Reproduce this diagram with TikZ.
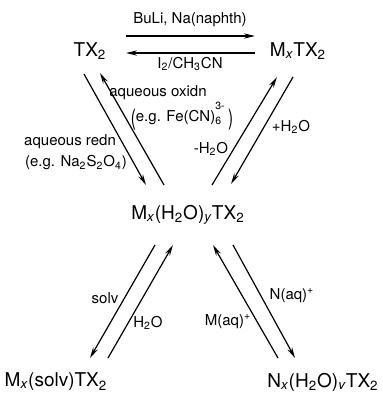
\documentclass[tikz,border=0pt]{standalone}
\usepackage{fontspec}
\setmainfont{TeX Gyre Heros}
\usepackage{graphicx}
\usetikzlibrary{arrows.meta}
\newcommand\tallparen[1]{\raisebox{-0.22em}{\scalebox{1}[1.5]{#1}}}
\tikzset{
  species/.style={inner sep=1pt, font=\fontsize{9.5}{11}\selectfont},
  cond/.style={inner sep=1pt, font=\fontsize{7.5}{9}\selectfont},
  rxn/.style={-{Stealth[length=5.5pt,width=2.6pt]}, line width=0.6pt},
}
\begin{document}
\begin{tikzpicture}[x=0.5pt, y=-0.5pt]
\useasboundingbox (0,0) rectangle (383,397);
% species
\node[species] (tx) at (90,51) {TX\textsubscript{2}};
\node[species] (mtx) at (298,51) {M\textsubscript{\itshape x}TX\textsubscript{2}};
\node[species] (hyd) at (188,215) {M\textsubscript{\itshape x}(H\textsubscript{2}O)\textsubscript{\itshape y}TX\textsubscript{2}};
\node[species] (solv) at (56,382) {M\textsubscript{\itshape x}(solv)TX\textsubscript{2}};
\node[species] (exch) at (323,382) {N\textsubscript{\itshape x}(H\textsubscript{2}O)\textsubscript{\itshape v}TX\textsubscript{2}};
% arrow ends
\coordinate (tx-r1) at (126,36);
\coordinate (tx-r2) at (126,53);
\coordinate (mtx-l1) at (255,36);
\coordinate (mtx-l2) at (255,53);
\coordinate (tx-d1) at (84,74);
\coordinate (tx-d2) at (100,73);
\coordinate (hyd-ul1) at (146,185);
\coordinate (hyd-ul2) at (164,185);
\coordinate (mtx-d1) at (277,77);
\coordinate (mtx-d2) at (293,77);
\coordinate (hyd-ur1) at (212,185);
\coordinate (hyd-ur2) at (231,184);
\coordinate (hyd-dl1) at (155,245);
\coordinate (hyd-dl2) at (173,245);
\coordinate (solv-u1) at (90,358);
\coordinate (solv-u2) at (108,358);
\coordinate (hyd-dr1) at (213,245);
\coordinate (hyd-dr2) at (233,245);
\coordinate (exch-u1) at (278,358);
\coordinate (exch-u2) at (295,358);
% reactions
\draw[rxn] (tx-r1) -- (mtx-l1);
\draw[rxn] (mtx-l2) -- (tx-r2);
\draw[rxn] (tx-d1) -- (hyd-ul1);
\draw[rxn] (hyd-ul2) -- (tx-d2);
\draw[rxn] (hyd-ur1) -- (mtx-d1);
\draw[rxn] (mtx-d2) -- (hyd-ur2);
\draw[rxn] (hyd-dl1) -- (solv-u1);
\draw[rxn] (solv-u2) -- (hyd-dl2);
\draw[rxn] (exch-u1) -- (hyd-dr1);
\draw[rxn] (hyd-dr2) -- (exch-u2);
% conditions
\node[cond] (buli) at (190,20) {BuLi, Na(naphth)};
\node[cond] (iodine) at (190,64) {I\textsubscript{2}/CH\textsubscript{3}CN};
\node[cond] (oxidn) at (158,93) {aqueous oxidn};
\node[cond] (ferri) at (182,116) {\tallparen{(}e.g. Fe(CN)\rlap{\textsubscript{6}}\raisebox{0.8ex}{\textsuperscript{3-}}\,\tallparen{)}};
\node[cond] (addw) at (291,127) {+H\textsubscript{2}O};
\node[cond] (redn) at (70,142) {aqueous redn};
\node[cond] (dithi) at (76,163) {(e.g. Na\textsubscript{2}S\textsubscript{2}O\textsubscript{4})};
\node[cond] (remw) at (211,149) {-H\textsubscript{2}O};
\node[cond] (solvl) at (105,298) {solv};
\node[cond] (water) at (148,323) {H\textsubscript{2}O};
\node[cond] (maq) at (228,322) {M(aq)\textsuperscript{+}};
\node[cond] (naq) at (292,296) {N(aq)\textsuperscript{+}};
\end{tikzpicture}
\end{document}
